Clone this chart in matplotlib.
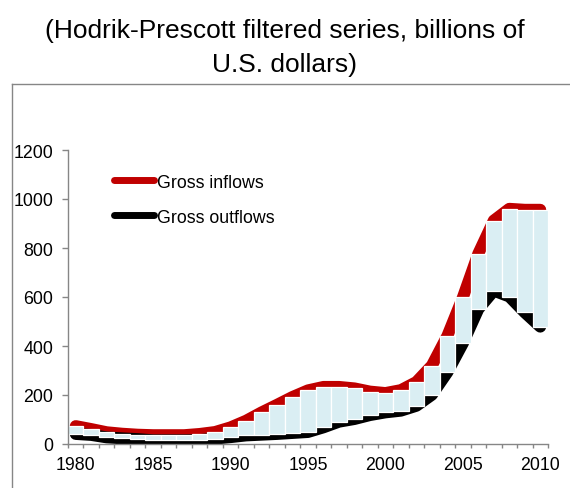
import matplotlib
matplotlib.use("Agg")
import matplotlib.pyplot as plt
from matplotlib.lines import Line2D
from matplotlib.ticker import FixedLocator

plt.rcParams['font.family'] = ['Liberation Sans', 'DejaVu Sans']

years = list(range(1980, 2011))

# Hodrik-Prescott trend of gross flows (billions of U.S. dollars)
gross_inflows = [73, 61, 48, 42, 38, 36, 36, 36, 41, 49,
                 68, 95, 129, 160, 192, 219, 233, 233, 227, 214,
                 208, 220, 253, 320, 441, 598, 777, 912, 960, 956, 956]
gross_outflows = [41, 37, 27, 23, 20, 15, 15, 15, 16, 22,
                  28, 35, 38, 41, 45, 49, 68, 91, 102, 118,
                  129, 136, 156, 201, 293, 411, 551, 626, 602, 537, 479]

y_ticks = [0, 200, 400, 600, 800, 1000, 1200]
x_labels = [1980, 1985, 1990, 1995, 2000, 2005, 2010]

title = "(Hodrik-Prescott filtered series, billions of\nU.S. dollars)"

W, H = 570, 489
fig = plt.figure(figsize=(W / 100, H / 100), dpi=100)
ax = fig.add_axes([68 / W, 1 - 445 / H, 480 / W, 294 / H])

red = "#C00000"
grey = "#868686"
bar_colour = "#DAEEF3"

# thick trend lines underneath, the up/down bars between them on top
lw = 8.6
ax.plot(years, gross_inflows, color=red, lw=lw, solid_capstyle='round',
        solid_joinstyle='round', zorder=2)
ax.plot(years, gross_outflows, color="black", lw=lw, solid_capstyle='round',
        solid_joinstyle='round', zorder=2)

heights = [h - l for h, l in zip(gross_inflows, gross_outflows)]
ax.bar(years, heights, bottom=gross_outflows, width=1.0, color=bar_colour,
       edgecolor="white", linewidth=0.9, zorder=3)

ax.set_xlim(1979.5, 2010.5)
ax.set_ylim(0, 1200)

for s in ("top", "right"):
    ax.spines[s].set_visible(False)
for s in ("left", "bottom"):
    ax.spines[s].set_color(grey)
    ax.spines[s].set_linewidth(1.0)
    ax.spines[s].set_zorder(4)

ax.yaxis.set_major_locator(FixedLocator(y_ticks))
ax.tick_params(axis='y', which='major', direction='out', length=4, width=1,
               color=grey, pad=6.5, labelsize=12.8, labelcolor="black")

ax.xaxis.set_major_locator(FixedLocator(x_labels))
ax.xaxis.set_minor_locator(FixedLocator([y + 0.5 for y in range(1979, 2011)]))
ax.tick_params(axis='x', which='major', length=0, pad=9, labelsize=12.8,
               labelcolor="black")
ax.tick_params(axis='x', which='minor', direction='out', length=3.2, width=1,
               color=grey)

handles = [Line2D([0], [0], color=red, lw=5.0, solid_capstyle='round'),
           Line2D([0], [0], color="black", lw=5.0, solid_capstyle='round')]
ax.legend(handles, ["Gross inflows", "Gross outflows"], loc="upper left",
          bbox_to_anchor=(0.095, 0.92), frameon=False, fontsize=12.8,
          handlelength=2.25, handletextpad=0.2, labelspacing=1.02,
          borderaxespad=0, borderpad=0)

fig.text(285 / W, 1 - 48 / H, title, ha="center", va="center", fontsize=19,
         linespacing=1.55, color="black")

# outer chart frame (left and top edges)
fig.add_artist(Line2D([12 / W, 12 / W], [1 - 85 / H, -0.05], color=grey,
                      lw=1.0, transform=fig.transFigure))
fig.add_artist(Line2D([12 / W, 1.05], [1 - 85 / H, 1 - 85 / H], color=grey,
                      lw=1.0, transform=fig.transFigure))

fig.savefig("out.png", dpi=100)
